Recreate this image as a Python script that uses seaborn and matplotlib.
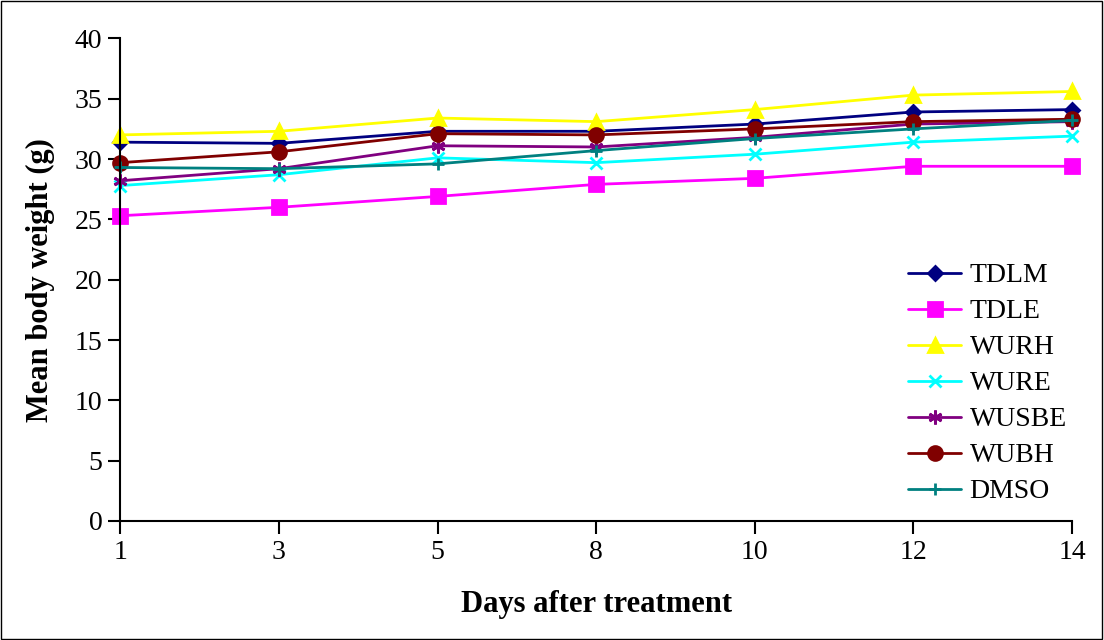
import numpy as np
import pandas as pd
import matplotlib
matplotlib.use('Agg')
import matplotlib.pyplot as plt
import seaborn as sns
from matplotlib.patches import Rectangle

days = ['1', '3', '5', '8', '10', '12', '14']

tdlm  = [31.4, 31.3, 32.3, 32.3, 32.9, 33.9, 34.1]
tdle  = [25.3, 26.0, 26.9, 27.9, 28.4, 29.4, 29.4]
wurh  = [32.0, 32.3, 33.4, 33.1, 34.1, 35.3, 35.6]
wure  = [27.8, 28.7, 30.1, 29.7, 30.4, 31.4, 31.9]
wusbe = [28.2, 29.2, 31.1, 31.0, 31.8, 32.9, 33.1]
wubh  = [29.7, 30.6, 32.1, 32.0, 32.5, 33.1, 33.3]
dmso  = [29.3, 29.2, 29.6, 30.7, 31.7, 32.5, 33.2]

groups = ['TDLM', 'TDLE', 'WURH', 'WURE', 'WUSBE', 'WUBH', 'DMSO']
series = [tdlm, tdle, wurh, wure, wusbe, wubh, dmso]
colors = ['#000080', '#FF00FF', '#FFFF00', '#00FFFF', '#800080', '#800000', '#008080']
markers = ['D', 's', '^', 'x', (6, 2, 0), 'o', '+']
msizes = [7, 10, 10, 8, 10, 10, 9]

sns.set_style('white')
plt.rcParams['font.family'] = ['Liberation Serif', 'DejaVu Serif']
plt.rcParams['text.color'] = 'black'
plt.rcParams['axes.labelcolor'] = 'black'

fig, ax = plt.subplots(figsize=(11.04, 6.4), dpi=100)
fig.subplots_adjust(left=0.109, right=0.971, top=0.94, bottom=0.186)

pos = np.arange(len(days))
for name, vals, c, m, ms in zip(groups, series, colors, markers, msizes):
    sns.lineplot(x=pos, y=vals, ax=ax, color=c, marker=m, markersize=ms,
                 markeredgecolor=c, markeredgewidth=2, linewidth=2,
                 label=name, clip_on=False)

ax.set_xlim(0, len(days) - 1)
ax.set_ylim(0, 40)
ax.set_xticks(pos)
ax.set_xticklabels(days)
ax.set_yticks(np.arange(0, 41, 5))
ax.tick_params(axis='both', labelsize=20, direction='out', length=9, width=1.5,
               colors='black', bottom=True, left=True)
ax.tick_params(axis='x', pad=5)
ax.tick_params(axis='y', pad=4)
for s in ['top', 'right']:
    ax.spines[s].set_visible(False)
for s in ['left', 'bottom']:
    ax.spines[s].set_color('black')
    ax.spines[s].set_linewidth(1.5)

ax.set_xlabel('Days after treatment', fontsize=22, fontweight='bold', labelpad=18)
ax.set_ylabel('Mean body weight (g)', fontsize=22, fontweight='bold', labelpad=14)

leg = ax.legend(loc='lower right', bbox_to_anchor=(1.012, 0.0), frameon=False,
                fontsize=20, handlelength=1.9, labelspacing=0.38, handletextpad=0.3,
                borderaxespad=0.2)

fig.patches.append(Rectangle((0.001, 0.001), 0.997, 0.997, transform=fig.transFigure,
                             fill=False, edgecolor='black', linewidth=1))

plt.savefig('out.png', dpi=100)
plt.close()
